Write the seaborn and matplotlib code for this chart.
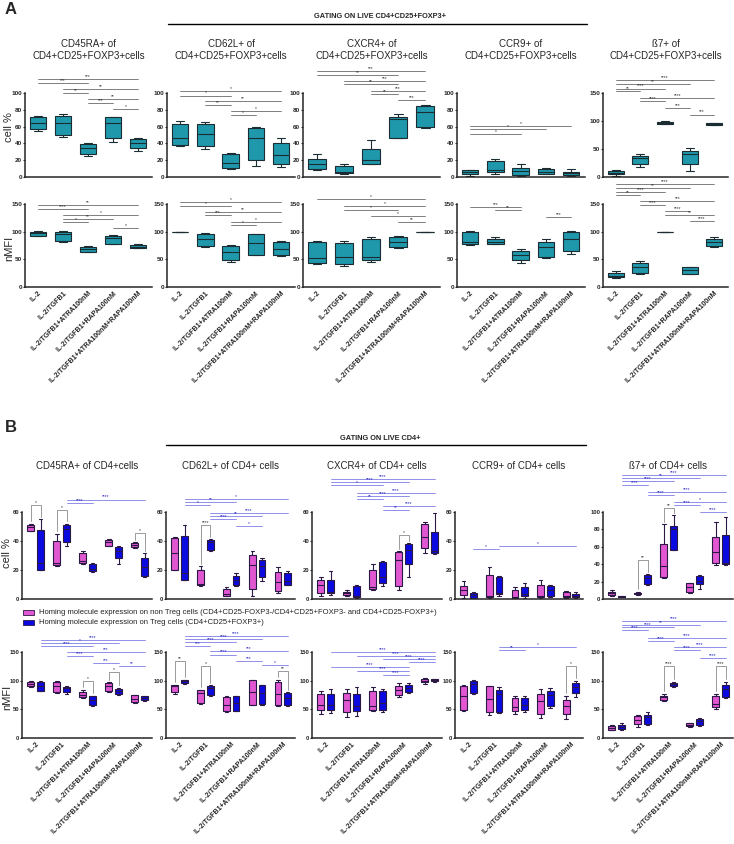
import pandas as pd
import matplotlib.pyplot as plt
import matplotlib.patches as mpatches
from matplotlib.lines import Line2D
import seaborn as sns

# conditions on the x axis and the two cell groups of panel B
CONDITIONS = ["IL-2", "IL-2/TGFB1", "IL-2/TGFB1+ATRA100nM",
              "IL-2/TGFB1+RAPA100nM", "IL-2/TGFB1+ATRA100nM+RAPA100nM"]
GROUPS = ["non Treg", "Treg"]

# each inner list: min, q1, median, q3, max of one condition (read off the boxes)
# ---- panel A, gating on CD4+CD25+FOXP3+ ----
A_CD45RA_PCT = [[55, 57, 64, 71, 73], [48, 50, 64, 73, 75], [25, 27, 35, 39, 40],
                [42, 47, 64, 71, 72], [31, 34, 40, 45, 46]]
A_CD62L_PCT = [[37, 38, 46, 63, 67], [33, 37, 51, 63, 66], [9, 11, 17, 27, 29],
               [13, 20, 47, 58, 60], [12, 15, 26, 41, 47]]
A_CXCR4_PCT = [[8, 9, 16, 22, 27], [4, 5, 6, 13, 15], [15, 16, 20, 33, 44],
               [46, 47, 69, 72, 75], [58, 60, 77, 85, 86]]
A_CCR9_PCT = [[1, 3, 6, 8, 8.5], [3, 6, 8, 19, 21], [1, 2.5, 7, 11, 16],
              [3, 3.6, 6, 10, 11], [1.6, 2.4, 4.5, 6.5, 9]]
A_B7_PCT = [[2, 5, 8, 11, 12], [18, 23, 34, 38, 41], [94, 95, 96.6, 98.4, 99.6],
            [10, 24, 41, 47, 52], [93, 93.6, 95, 96, 97]]

A_CD45RA_MFI = [[92.6, 93, 97, 100, 101.6], [82, 84, 95.6, 100, 101], [63, 64, 69, 73, 74],
                [77, 78, 88, 93, 94], [69.6, 70, 73, 76, 77.4]]
A_CD62L_MFI = [[100, 100, 100, 100, 100], [72.6, 74, 86.5, 96, 97], [46, 48, 63, 74, 75],
               [57.5, 58.7, 80, 95, 96], [55.7, 57, 68, 82, 83.5]]
A_CXCR4_MFI = [[42, 43.6, 52.6, 82, 83], [37.5, 41, 54.5, 80, 83], [45, 49.6, 54.5, 86.5, 89.5],
               [69.6, 72.6, 80.5, 89.5, 92], [100, 100, 100, 100, 100]]
A_CCR9_MFI = [[76, 78, 82, 100, 100.4], [77, 78.6, 81.7, 86, 89.5], [43.6, 48, 57, 64.7, 67.8],
              [52.6, 54.5, 72, 81.7, 86], [60, 65, 87, 100, 100.4]]
A_B7_MFI = [[16.4, 17.6, 20.6, 25.5, 28.5], [24, 26, 36.4, 42.5, 47], [100, 100, 100, 100, 100],
            [23, 24, 30, 35.8, 37], [71.6, 74, 81, 86, 90]]

# significance bars: (from condition, to condition, height, stars)
A_CD45RA_PCT_SIG = [(0, 4, 117, "***"), (0, 2, 112, "***"), (1, 4, 105, "**"), (1, 2, 100, "**"),
                    (2, 4, 93, "**"), (2, 3, 88, "***"), (3, 4, 81, "*")]
A_CD62L_PCT_SIG = [(0, 4, 102, "*"), (0, 2, 97, "*"), (1, 4, 91, "**"), (1, 2, 86, "**"),
                   (2, 4, 78, "*"), (2, 3, 74, "*")]
A_CXCR4_PCT_SIG = [(0, 4, 126, "***"), (0, 3, 121.6, "**"), (1, 4, 114, "***"), (1, 3, 110.8, "**"),
                   (2, 4, 102.8, "***"), (2, 3, 99, "**"), (3, 4, 91.6, "***")]
A_CCR9_PCT_SIG = [(0, 4, 60.7, "*"), (0, 3, 56.7, "*"), (0, 2, 51.4, "*")]
A_B7_PCT_SIG = [(0, 4, 172.8, "****"), (0, 3, 165.6, "**"), (0, 2, 158, "****"), (0, 1, 153.6, "**"),
                (1, 4, 141.6, "****"), (1, 2, 136, "****"), (2, 3, 123.6, "***"), (3, 4, 111.6, "***")]

A_CD45RA_MFI_SIG = [(0, 4, 148, "**"), (0, 2, 141, "****"), (1, 4, 129.5, "*"), (1, 3, 123.4, "**"),
                    (1, 2, 117, "*"), (3, 4, 106, "*")]
A_CD62L_MFI_SIG = [(0, 4, 153.7, "*"), (0, 2, 147, "*"), (1, 4, 136, "**"), (1, 2, 130, "***"),
                   (2, 4, 118, "*"), (2, 3, 112, "*")]
A_CXCR4_MFI_SIG = [(0, 4, 158.5, "*"), (1, 4, 147, "*"), (1, 3, 140, "*"), (2, 4, 129, "*"),
                   (3, 4, 117, "**")]
A_CCR9_MFI_SIG = [(0, 2, 144, "***"), (1, 2, 139, "**"), (3, 4, 126.5, "***")]
A_B7_MFI_SIG = [(0, 4, 186, "****"), (0, 3, 178.6, "**"), (0, 2, 172, "****"), (0, 1, 166, "**"),
                (1, 4, 155, "***"), (1, 2, 148.7, "****"), (2, 3, 136.6, "****"), (2, 4, 130, "**"),
                (3, 4, 118.4, "****")]

# ---- panel B, gating on CD4+ : non Treg (pink) and Treg (blue) ----
B_CD45RA_PCT_NON = [[46.6, 47, 49.6, 51.2, 51.7], [23, 23.3, 25, 40, 45], [24.3, 25, 26, 32, 33],
                    [36.4, 36.8, 39, 40.8, 41.5], [35.4, 35.7, 37, 38.5, 39]]
B_CD45RA_PCT_TREG = [[19.9, 20.3, 25, 47.7, 55], [36.8, 39, 48, 51.2, 52], [18.7, 19.2, 21, 24, 24.5],
                     [24, 28, 33, 36, 36.4], [15.5, 16, 22, 28, 31.5]]
B_CD62L_PCT_NON = [[19.9, 20.3, 31.5, 42, 42.6], [9, 9.4, 10.6, 20.3, 22.6], [2.2, 2.4, 3.6, 7.1, 8.2],
                   [2.4, 6.8, 23.3, 30.3, 33], [4, 5.2, 11.7, 18.7, 22]]
B_CD62L_PCT_TREG = [[13, 13.4, 18, 43.5, 51], [33.3, 33.8, 39.6, 40.8, 41.2], [8.9, 9.4, 12.9, 15.7, 17.6],
                    [12.2, 15.2, 22.6, 26.8, 28], [9.4, 9.9, 12.5, 17.6, 19.4]]
B_CXCR4_PCT_NON = [[2, 4, 10, 13, 15], [2, 3, 4, 5, 6], [6.5, 7, 8, 20, 24],
                   [6, 9, 27, 32.5, 33], [32, 35, 43, 52, 53]]
B_CXCR4_PCT_TREG = [[3, 4, 5, 13, 19], [1, 1.4, 2.3, 9, 10], [9, 11, 15, 25.5, 26],
                    [15, 24, 34, 38, 38.5], [30.7, 31.4, 33, 46, 59]]
B_CCR9_PCT_NON = [[0.6, 3, 6, 8.9, 12.7], [0.8, 1.7, 2.4, 16.5, 22], [0.6, 0.8, 1.3, 6, 8.2],
                  [0.6, 1.3, 2.4, 9.4, 13.4], [0.8, 1.3, 2.4, 4.8, 5.4]]
B_CCR9_PCT_TREG = [[0.5, 0.6, 2.6, 4.2, 4.5], [2.4, 3.7, 4.4, 15.3, 16], [0.8, 1.8, 3.6, 8.1, 11],
                   [1.7, 2.4, 6, 8.7, 10], [0.8, 1.3, 2, 3.7, 4.5]]
B_B7_PCT_NON = [[3.5, 4.6, 6.6, 7.7, 10.4], [5, 5.4, 6.6, 7.3, 8], [24, 25, 37.5, 63, 86],
                [6.6, 7.7, 14, 18, 18.8], [39, 41, 54, 71, 88.5]]
B_B7_PCT_TREG = [[1.9, 2.3, 2.7, 3.5, 3.8], [16, 17.3, 23.8, 27.7, 28.5], [56, 56.5, 80, 83.4, 96],
                 [11, 17, 21, 26.5, 27.7], [39, 40, 41, 73, 94]]

B_CD45RA_MFI_NON = [[89.5, 90, 94, 97.7, 98.8], [78.5, 79.7, 91.3, 97.7, 98.8], [69.8, 71, 75.6, 80.2, 84.3],
                    [80.2, 81.4, 91.3, 96, 97.2], [61, 62.2, 68, 74.4, 75.6]]
B_CD45RA_MFI_TREG = [[81.4, 82.6, 91.3, 97.7, 98.8], [76.8, 80.2, 87.2, 89.5, 91.3], [56.5, 57, 67, 72.7, 74],
                     [75.6, 76.8, 81.4, 85.5, 87.2], [64, 65.7, 69.8, 72.7, 74]]
B_CD62L_MFI_NON = [[76.8, 80, 90, 92, 93], [60, 61, 78.5, 83.2, 84.3], [44.8, 46.6, 58.2, 71.6, 72.7],
                   [57, 58.2, 80.2, 100.5, 101.7], [55.3, 57, 77.3, 97.7, 101.7]]
B_CD62L_MFI_TREG = [[94.8, 96, 98.8, 100.5, 101.7], [73.9, 74.4, 87.2, 91.3, 92], [46.6, 47.7, 61, 72.7, 74],
                    [58.2, 59.3, 78.5, 92, 93], [55.3, 57, 70, 78.5, 79.7]]
B_CXCR4_MFI_NON = [[42, 48.3, 58.2, 76.8, 82.6], [36.6, 44.8, 66.9, 78.5, 85.5], [46.6, 49.6, 56.5, 81.4, 89.5],
                   [71, 75.6, 84.3, 91.3, 96], [95, 97, 100, 103, 104]]
B_CXCR4_MFI_TREG = [[43.6, 48.3, 57.6, 76.8, 86], [39, 46.6, 56.5, 76.8, 88.4], [45.5, 49.6, 61, 81.4, 86],
                    [78.5, 79.7, 87.2, 93, 96], [97.7, 99, 101, 102.5, 103.6]]
B_CCR9_MFI_NON = [[47.7, 48.3, 72.7, 91.3, 92], [40.7, 45.4, 68, 90, 91.3], [42, 46.6, 53.5, 69.8, 73.9],
                  [35, 42.4, 65, 76.8, 86], [33, 42.4, 55.3, 65.7, 74]]
B_CCR9_MFI_TREG = [[76.8, 78.5, 94, 99.4, 100.5], [43.6, 44.8, 76, 84.3, 88.4], [45.5, 49.6, 58.2, 69.8, 72.7],
                   [52.4, 55.3, 75.6, 81.4, 87.2], [71, 78.5, 89.5, 96.6, 99.4]]
B_B7_MFI_NON = [[13.8, 14.4, 17.3, 20.2, 22.5], [20, 24.3, 31.8, 37.6, 40], [64.9, 66, 70.7, 73.6, 77.6],
                [19.6, 20.2, 23, 25.4, 27], [50.4, 53.3, 59, 73.6, 77.6]]
B_B7_MFI_TREG = [[13.8, 15, 19.6, 23, 25.4], [22.5, 24.3, 36, 40.5, 45.7], [89.3, 91, 95, 96.7, 98.5],
                 [21.3, 23, 29, 33, 34.7], [69.6, 70.7, 85, 92.7, 98.5]]

# Treg vs Treg bars (blue) and non Treg vs Treg brackets (condition, height, stars)
B_CD45RA_PCT_SIG = [(1, 4, 68.6, "****"), (1, 2, 66.3, "****")]
B_CD62L_PCT_SIG = [(0, 4, 69.1, "*"), (0, 2, 67, "**"), (0, 1, 64.5, "*"), (1, 4, 59.4, "****"),
                   (1, 3, 57.5, "**"), (1, 2, 55.4, "****"), (2, 3, 50.5, "*")]
B_CXCR4_PCT_SIG = [(0, 4, 82.6, "****"), (0, 3, 80.5, "****"), (0, 2, 78.6, "*"), (1, 4, 73, "****"),
                   (1, 3, 71, "****"), (1, 2, 69, "**"), (2, 4, 64, "****"), (2, 3, 61.6, "**")]
B_CCR9_PCT_SIG = [(0, 1, 34.3, "*"), (1, 4, 36.6, "*")]
B_B7_PCT_SIG = [(0, 4, 142, "****"), (0, 3, 138.8, "**"), (0, 2, 135.3, "****"), (0, 1, 131.5, "****"),
                (1, 4, 123.4, "****"), (1, 2, 120, "****"), (2, 4, 111, "*"), (2, 3, 108, "****"),
                (3, 4, 100, "****")]
B_CD45RA_PCT_PAIRS = [(0, 64.5, "*"), (1, 61.7, "*"), (4, 45.4, "*")]
B_CD62L_PCT_PAIRS = [(1, 50.7, "****")]
B_CXCR4_PCT_PAIRS = [(3, 44, "*")]
B_CCR9_PCT_PAIRS = []
B_B7_PCT_PAIRS = [(1, 45, "**"), (2, 105, "**")]

B_CD45RA_MFI_SIG = [(0, 4, 171.6, "****"), (0, 3, 166.4, "*"), (0, 2, 160.6, "****"), (1, 4, 149.4, "***"),
                    (1, 2, 142.4, "****"), (2, 3, 130.8, "***"), (3, 4, 126.2, "**")]
B_CD62L_MFI_SIG = [(0, 4, 178.6, "****"), (0, 3, 172.8, "****"), (0, 2, 167.6, "****"), (0, 1, 161.2, "***"),
                   (1, 4, 152, "***"), (1, 2, 145.6, "****"), (2, 3, 134, "***"), (3, 4, 127.6, "*")]
B_CXCR4_MFI_SIG = [(0, 4, 149.4, "****"), (1, 4, 142.4, "****"), (2, 4, 137.8, "****"), (3, 4, 132.5, "****"),
                   (0, 3, 123.3, "****"), (1, 3, 117.5, "****"), (2, 3, 110.5, "****")]
B_CCR9_MFI_SIG = [(1, 4, 158.6, "*"), (1, 2, 153.4, "**")]
B_B7_MFI_SIG = [(0, 4, 203.5, "****"), (0, 3, 197.7, "**"), (0, 2, 193, "****"), (0, 1, 187.8, "****"),
                (1, 4, 174.4, "****"), (1, 2, 169.8, "****"), (2, 4, 158.2, "****"), (2, 3, 153, "****"),
                (3, 4, 139.6, "****")]
B_CD45RA_MFI_PAIRS = [(2, 98.8, "*"), (3, 115.6, "*")]
B_CD62L_MFI_PAIRS = [(0, 134, "**"), (1, 126.2, "*"), (4, 116, "**")]
B_CXCR4_MFI_PAIRS = []
B_CCR9_MFI_PAIRS = [(4, 126.2, "*")]
B_B7_MFI_PAIRS = [(2, 126.2, "****"), (4, 126.2, "****")]

A_TITLES = ["CD45RA+ of\nCD4+CD25+FOXP3+cells", "CD62L+ of\nCD4+CD25+FOXP3+cells",
            "CXCR4+ of\nCD4+CD25+FOXP3+cells", "CCR9+ of\nCD4+CD25+FOXP3+cells",
            "ß7+ of\nCD4+CD25+FOXP3+cells"]
B_TITLES = ["CD45RA+ of CD4+cells", "CD62L+ of CD4+ cells", "CXCR4+ of CD4+ cells",
            "CCR9+ of CD4+ cells", "ß7+ of CD4+ cells"]
LEGEND_LABELS = ["Homing molecule expression on non Treg cells "
                 "(CD4+CD25-FOXP3-/CD4+CD25+FOXP3- and CD4+CD25-FOXP3+)",
                 "Homing molecule expression on Treg cells (CD4+CD25+FOXP3+)"]

TEAL = "#1f98ab"
PINK = "#e157d2"
BLUE = "#0a0ae0"
W, H = 734, 844

sns.set_style("ticks")
plt.rcParams["font.family"] = ["Liberation Sans", "DejaVu Sans"]

fig = plt.figure(figsize=(W / 100, H / 100), dpi=100)


def px_axes(x0, x1, y0, y1):
    # axes from pixel box (top-left origin)
    return fig.add_axes([x0 / W, 1 - y1 / H, (x1 - x0) / W, (y1 - y0) / H])


def style_axes(ax, ymax, yticks, show_x, ysize=4.6):
    ax.set_ylim(0, ymax)
    ax.set_yticks(yticks)
    ax.set_xlabel("")
    ax.set_ylabel("")
    sns.despine(ax=ax)
    for s in ["left", "bottom"]:
        ax.spines[s].set_linewidth(1.1)
    ax.tick_params(axis="x", length=0, pad=2)
    ax.tick_params(axis="y", length=1.5, width=0.8, labelsize=ysize, pad=0.5)
    for lab in ax.get_yticklabels():
        lab.set_fontweight("bold")
    ax.set_xticks(range(len(CONDITIONS)))
    if show_x:
        ax.set_xticklabels(CONDITIONS, rotation=45, ha="right", rotation_mode="anchor",
                           fontsize=5, fontweight="bold")
    else:
        ax.set_xticklabels([])


def sig_bars(ax, sig, off, color, tcolor):
    for i, j, y, lab in sig:
        ax.plot([i + off, j + off], [y, y], color=color, lw=0.6, clip_on=False)
        ax.text((i + j) / 2 + off, y, lab, ha="center", va="bottom", fontsize=3.5,
                color=tcolor, clip_on=False)


def panel_a(ax, values, sig, ymax, yticks, show_x):
    df = pd.DataFrame({"condition": [c for c, v in zip(CONDITIONS, values) for _ in v],
                       "value": [x for v in values for x in v]})
    sns.boxplot(data=df, x="condition", y="value", order=CONDITIONS, color=TEAL, saturation=1,
                width=0.65, whis=(0, 100), fliersize=0, linewidth=0.8, linecolor="#1b2c33", ax=ax)
    ax.set_xlim(-0.52, 4.55)
    style_axes(ax, ymax, yticks, show_x)
    sig_bars(ax, sig, 0, "#6a6a6a", "#333333")


def panel_b(ax, non, treg, sig, pairs, ymax, yticks, show_x):
    rows = []
    for grp, values in zip(GROUPS, [non, treg]):
        for c, v in zip(CONDITIONS, values):
            for x in v:
                rows.append({"condition": c, "group": grp, "value": x})
    df = pd.DataFrame(rows)
    sns.boxplot(data=df, x="condition", y="value", hue="group", order=CONDITIONS,
                hue_order=GROUPS, palette=[PINK, BLUE], saturation=1, width=0.75, gap=0.3,
                whis=(0, 100), fliersize=0, linewidth=0.8, linecolor="#2c1845",
                legend=False, ax=ax)
    ax.set_xlim(-0.53, 4.47)
    style_axes(ax, ymax, yticks, show_x, ysize=4.2)
    off = 0.75 / 4
    sig_bars(ax, sig, off, "#7d7de6", "#2a2ac8")
    d = ymax * 0.03
    for i, y, lab in pairs:
        ax.plot([i - off, i - off, i + off, i + off],
                [max(non[i]) + d, y, y, max(treg[i]) + d],
                color="#8a8a8a", lw=0.6, clip_on=False)
        ax.text(i, y, lab, ha="center", va="bottom", fontsize=3.5, color="#333333", clip_on=False)


pct = [0, 20, 40, 60, 80, 100]
mfi = [0, 50, 100, 150]

# ---------------- panel A ----------------
a_cols = [(25, 152), (167, 295), (303, 440), (457, 585), (603, 728)]
a_pct = [A_CD45RA_PCT, A_CD62L_PCT, A_CXCR4_PCT, A_CCR9_PCT, A_B7_PCT]
a_pct_sig = [A_CD45RA_PCT_SIG, A_CD62L_PCT_SIG, A_CXCR4_PCT_SIG, A_CCR9_PCT_SIG, A_B7_PCT_SIG]
a_mfi = [A_CD45RA_MFI, A_CD62L_MFI, A_CXCR4_MFI, A_CCR9_MFI, A_B7_MFI]
a_mfi_sig = [A_CD45RA_MFI_SIG, A_CD62L_MFI_SIG, A_CXCR4_MFI_SIG, A_CCR9_MFI_SIG, A_B7_MFI_SIG]

for k, (x0, x1) in enumerate(a_cols):
    ax = px_axes(x0, x1, 93, 177)
    if k == 4:
        panel_a(ax, a_pct[k], a_pct_sig[k], 150, mfi, False)
    else:
        panel_a(ax, a_pct[k], a_pct_sig[k], 100, pct, False)
    ax = px_axes(x0, x1, 204, 287)
    panel_a(ax, a_mfi[k], a_mfi_sig[k], 150, mfi, True)
    fig.text((x0 + x1) / 2 / W, 1 - 50 / H, A_TITLES[k], ha="center", va="center",
             fontsize=7, linespacing=1.3)

# ---------------- panel B ----------------
b_cols = [(22, 152), (166, 295), (312, 442), (455, 583), (603, 733)]
b_pct = [(B_CD45RA_PCT_NON, B_CD45RA_PCT_TREG), (B_CD62L_PCT_NON, B_CD62L_PCT_TREG),
         (B_CXCR4_PCT_NON, B_CXCR4_PCT_TREG), (B_CCR9_PCT_NON, B_CCR9_PCT_TREG),
         (B_B7_PCT_NON, B_B7_PCT_TREG)]
b_pct_sig = [B_CD45RA_PCT_SIG, B_CD62L_PCT_SIG, B_CXCR4_PCT_SIG, B_CCR9_PCT_SIG, B_B7_PCT_SIG]
b_pct_pairs = [B_CD45RA_PCT_PAIRS, B_CD62L_PCT_PAIRS, B_CXCR4_PCT_PAIRS, B_CCR9_PCT_PAIRS, B_B7_PCT_PAIRS]
b_mfi = [(B_CD45RA_MFI_NON, B_CD45RA_MFI_TREG), (B_CD62L_MFI_NON, B_CD62L_MFI_TREG),
         (B_CXCR4_MFI_NON, B_CXCR4_MFI_TREG), (B_CCR9_MFI_NON, B_CCR9_MFI_TREG),
         (B_B7_MFI_NON, B_B7_MFI_TREG)]
b_mfi_sig = [B_CD45RA_MFI_SIG, B_CD62L_MFI_SIG, B_CXCR4_MFI_SIG, B_CCR9_MFI_SIG, B_B7_MFI_SIG]
b_mfi_pairs = [B_CD45RA_MFI_PAIRS, B_CD62L_MFI_PAIRS, B_CXCR4_MFI_PAIRS, B_CCR9_MFI_PAIRS, B_B7_MFI_PAIRS]

for k, (x0, x1) in enumerate(b_cols):
    ax = px_axes(x0, x1, 512, 599)
    non, treg = b_pct[k]
    if k == 4:
        panel_b(ax, non, treg, b_pct_sig[k], b_pct_pairs[k], 100, pct, False)
    else:
        panel_b(ax, non, treg, b_pct_sig[k], b_pct_pairs[k], 60, [0, 20, 40, 60], False)
    ax = px_axes(x0, x1, 652, 738)
    non, treg = b_mfi[k]
    panel_b(ax, non, treg, b_mfi_sig[k], b_mfi_pairs[k], 150, mfi, True)
    fig.text((x0 + x1) / 2 / W, 1 - 466 / H, B_TITLES[k], ha="center", va="center", fontsize=7)

# panel letters, gating headers, y labels
fig.text(5 / W, 1 - 10 / H, "A", fontsize=12, fontweight="bold", va="center")
fig.text(5 / W, 1 - 428 / H, "B", fontsize=12, fontweight="bold", va="center")
fig.text(380 / W, 1 - 17 / H, "GATING ON LIVE CD4+CD25+FOXP3+", ha="center", va="center",
         fontsize=5.3, fontweight="bold")
fig.text(380 / W, 1 - 439 / H, "GATING ON LIVE CD4+", ha="center", va="center",
         fontsize=5.3, fontweight="bold")
fig.add_artist(Line2D([168 / W, 587 / W], [1 - 24 / H] * 2, color="black", lw=1))
fig.add_artist(Line2D([166 / W, 586 / W], [1 - 445 / H] * 2, color="black", lw=1))
for x, y, lab in [(9, 127, "cell %"), (9, 248, "nMFI"), (7, 553, "cell %"), (7, 697, "nMFI")]:
    fig.text(x / W, 1 - y / H, lab, rotation=90, ha="center", va="center", fontsize=8)

# legend for panel B
for y, col, lab in [(612, PINK, LEGEND_LABELS[0]), (622, BLUE, LEGEND_LABELS[1])]:
    fig.add_artist(mpatches.Rectangle((23 / W, 1 - (y + 2.5) / H), 11 / W, 5 / H,
                                      transform=fig.transFigure, facecolor=col,
                                      edgecolor="#2c1845", lw=0.6))
    fig.text(39 / W, 1 - y / H, lab, ha="left", va="center", fontsize=5.5, color="#222222")

fig.savefig("out.png", dpi=100)
